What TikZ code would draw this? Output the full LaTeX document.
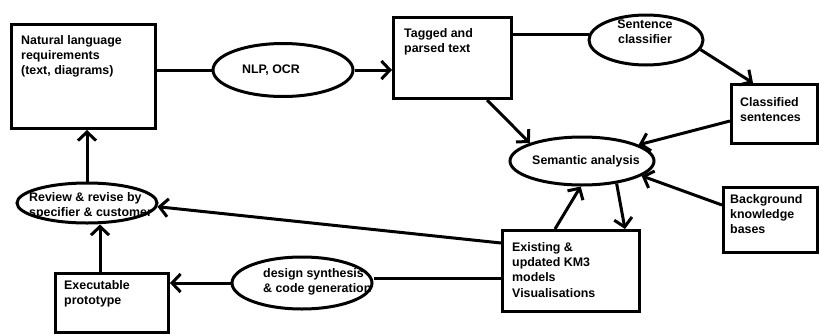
\documentclass[tikz,border=0pt]{standalone}
\usepackage{fontspec}
\setmainfont{Liberation Sans}
\usetikzlibrary{arrows.meta,calc,shapes.geometric}
\begin{document}
\begin{tikzpicture}[x=1pt,y=-1pt,
  box/.style={draw,line width=3pt,inner sep=0pt,anchor=north west},
  oval/.style={draw,ellipse,line width=3pt,inner sep=0pt},
  lbl/.style={font=\fontsize{12.4}{15}\selectfont\bfseries,inner sep=0pt,align=left,anchor=north west},
  clbl/.style={font=\fontsize{12.4}{15}\selectfont\bfseries,inner sep=0pt,align=center},
  conn/.style={line width=3pt},
  arr/.style={line width=3pt,-{Straight Barb[length=8.5pt,width=18pt]}}]
\fill[white] (0,0) rectangle (820,335);
\useasboundingbox (0,0) rectangle (820,335);
% boxes
\node[box,minimum width=144pt,minimum height=104pt] (nl) at (10,23) {};
\node[box,minimum width=118pt,minimum height=81pt] (tag) at (392,16) {};
\node[box,minimum width=86pt,minimum height=59pt] (cls) at (730,83) {};
\node[box,minimum width=94pt,minimum height=65pt] (bg) at (722,186) {};
\node[box,minimum width=137pt,minimum height=81pt] (ex) at (501,229) {};
\node[box,minimum width=113pt,minimum height=59pt] (exe) at (54,272) {};
% ellipses
\node[oval,minimum width=140pt,minimum height=53pt] (nlp) at (283,70) {};
\node[oval,minimum width=114pt,minimum height=50pt] (sc) at (646,40) {};
\node[oval,minimum width=144pt,minimum height=48pt] (sem) at (582,161) {};
\node[oval,minimum width=140pt,minimum height=40pt] (rev) at (87,203) {};
\node[oval,minimum width=140pt,minimum height=52pt] (des) at (302,283) {};
% texts
\node[lbl] (tnl) at (21,35) {Natural language\\requirements\\(text, diagrams)};
\node[clbl] (tnlp) at (271,70) {NLP, OCR};
\node[lbl] (ttag) at (404,28) {Tagged and\\parsed text};
\node[clbl] (tsc) at (645,32) {Sentence\\classifier};
\node[lbl] (tcls) at (740,97) {Classified\\sentences};
\node[clbl] (tsem) at (586,161) {Semantic analysis};
\node[lbl] (tbg) at (730,194) {Background\\knowledge\\bases};
\node[lbl] (tex) at (512,242) {Existing \&\\updated KM3\\models\\[1pt]Visualisations};
\node[lbl] (trev) at (29,192) {Review \& revise by\\specifier \& customer};
\node[lbl] (tdes) at (263,268) {design synthesis\\\& code generation};
\node[lbl] (texe) at (64,280) {Executable\\prototype};
% connectors
\draw[conn] (nlp.west -| nl.east) -- (nlp.west);
\draw[arr] (nlp.east) -- (nlp.east -| tag.west);
\draw[conn] (sc.175) -- (sc.175 -| tag.east);
\draw[arr] (sc.-10) -- ($(cls.north west)+(23,0)$);
\draw[arr] ($(tag.south west)+(95,0)$) -- (sem.161);
\draw[arr] ($(cls.north west)+(0,38)$) -- (sem.16);
\draw[arr] ($(bg.north west)+(0,19)$) -- (sem.-14);
\draw[arr] ($(ex.north west)+(54,0)$) -- (sem.-93);
\draw[arr] (sem.-33) -- ($(ex.north west)+(124,0)$);
\draw[arr] ($(ex.north west)+(0,14)$) -- (rev.-3);
\coordinate (exd) at ($(ex.north west)+(0,49)$);
\draw[conn] (exd) -- (exd -| des.east);
\draw[arr] (des.west) -- (des.west -| exe.east);
\coordinate (exu) at ($(exe.north west)+(46,0)$);
\draw[arr] (exu) -- (exu |- rev.south);
\draw[arr] (rev.north) -- (rev.north |- nl.south);
\end{tikzpicture}
\end{document}
